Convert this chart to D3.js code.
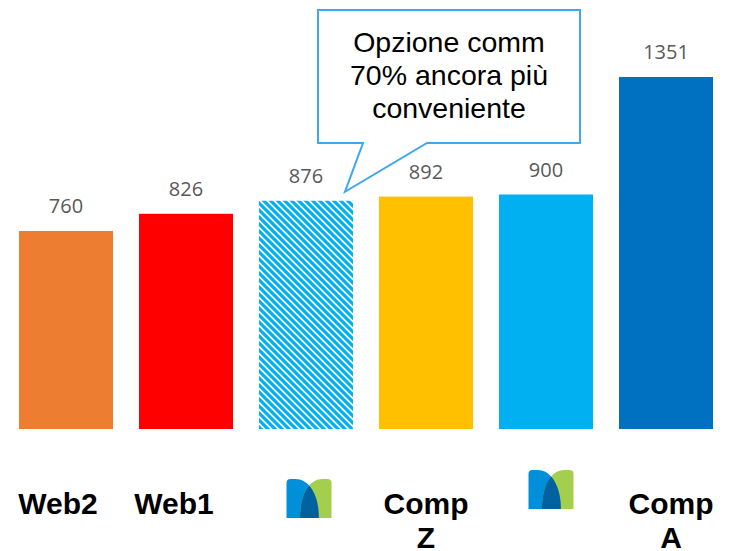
<!DOCTYPE html>
<html>
<head>
<meta charset="utf-8">
<script src="https://cdn.jsdelivr.net/npm/d3@7"></script>
<style>
  body { margin: 0; background: #fff; }
</style>
</head>
<body>
<div id="chart"></div>
<script>
// data
const categories = ["Web2", "Web1", "logo", "Comp\nZ", "logo", "Comp\nA"];
const values = [760, 826, 876, 892, 900, 1351];
const barColors = ["#ED7D31", "#FF0000", "url(#hatch)", "#FFC000", "#00B0F0", "#0070C0"];
const calloutLines = ["Opzione comm", "70% ancora più", "conveniente"];

// small layout tweaks for the label row
const labelShift = [-8, -12, 3, 0, 5, 5];
const logoTop = [479, 0, 479, 0, 470, 0];

let w = 730;
let h = 551;

let svg = d3.select("#chart")
    .append("svg")
    .attr("width", w)
    .attr("height", h);

let defs = svg.append("defs");

// diagonal stripes for the hatched bar
let pat = defs.append("pattern")
    .attr("id", "hatch")
    .attr("patternUnits", "userSpaceOnUse")
    .attr("width", 7)
    .attr("height", 7);
pat.append("rect").attr("width", 7).attr("height", 7).attr("fill", "#fff");
pat.append("path")
    .attr("d", "M-2,-2 L9,9 M-2,5 L2,9 M5,-2 L9,2")
    .attr("stroke", "#00B0F0")
    .attr("stroke-width", 3.2);

let x = d3.scaleBand()
    .domain(d3.range(categories.length))
    .range([6, 726])
    .paddingInner(0.2167)
    .paddingOuter(0.1083);

let y = d3.scaleLinear()
    .domain([0, 1351])
    .range([429, 77]);

svg.selectAll("rect.bar")
    .data(values)
    .enter()
    .append("rect")
    .attr("class", "bar")
    .attr("x", function (d, i) { return x(i); })
    .attr("y", function (d) { return y(d); })
    .attr("width", x.bandwidth())
    .attr("height", function (d) { return y(0) - y(d); })
    .attr("fill", function (d, i) { return barColors[i]; });

svg.selectAll("text.val")
    .data(values)
    .enter()
    .append("text")
    .attr("class", "val")
    .attr("x", function (d, i) { return x(i) + x.bandwidth() / 2; })
    .attr("y", function (d) { return y(d) - 18; })
    .attr("text-anchor", "middle")
    .attr("font-family", "'Open Sans', sans-serif")
    .attr("font-size", "20px")
    .attr("fill", "#595959")
    .text(function (d) { return d; });

// category labels (text or logo)
const lw = 45, lh = 39;
const bluePath = `M0,${lh} V4 Q0,0 4,0 H${lw * 0.2} C${lw * 0.5},0 ${lw * 0.72},${lh * 0.4} ${lw * 0.72},${lh} Z`;
const greenPath = `M${lw},${lh} V4 Q${lw},0 ${lw - 4},0 H${lw * 0.8} C${lw * 0.5},0 ${lw * 0.3},${lh * 0.4} ${lw * 0.3},${lh} Z`;
defs.append("clipPath").attr("id", "blueClip").append("path").attr("d", bluePath);

categories.forEach(function (c, i) {
    let cx = x(i) + x.bandwidth() / 2 + labelShift[i];
    if (c === "logo") {
        let g = svg.append("g")
            .attr("transform", "translate(" + (cx - lw / 2) + "," + logoTop[i] + ")");
        g.append("path").attr("d", bluePath).attr("fill", "#0090DA");
        g.append("path").attr("d", greenPath).attr("fill", "#A4CE4E");
        g.append("path").attr("d", greenPath).attr("fill", "#0061A0")
            .attr("clip-path", "url(#blueClip)");
    } else {
        let t = svg.append("text")
            .attr("x", cx)
            .attr("y", 514)
            .attr("text-anchor", "middle")
            .attr("font-family", "Arial, 'Liberation Sans', sans-serif")
            .attr("font-weight", "bold")
            .attr("font-size", "30px")
            .attr("fill", "#000");
        c.split("\n").forEach(function (line, k) {
            t.append("tspan")
                .attr("x", cx)
                .attr("dy", k === 0 ? 0 : 34)
                .text(line);
        });
    }
});

// callout bubble pointing at the hatched bar
let tipX = x(2) + x.bandwidth() / 2 + 39;
let tipY = y(values[2]) - 9;
svg.append("path")
    .attr("d", "M318,10 H580 V143 H427 L" + tipX + "," + tipY + " L363,143 H318 Z")
    .attr("fill", "#fff")
    .attr("stroke", "#3DA8EC")
    .attr("stroke-width", 2);

svg.selectAll("text.call")
    .data(calloutLines)
    .enter()
    .append("text")
    .attr("class", "call")
    .attr("x", 449)
    .attr("y", function (d, i) { return 52 + i * 33; })
    .attr("text-anchor", "middle")
    .attr("font-family", "Arial, 'Liberation Sans', sans-serif")
    .attr("font-size", "28.5px")
    .attr("fill", "#000")
    .text(function (d) { return d; });
</script>
</body>
</html>
